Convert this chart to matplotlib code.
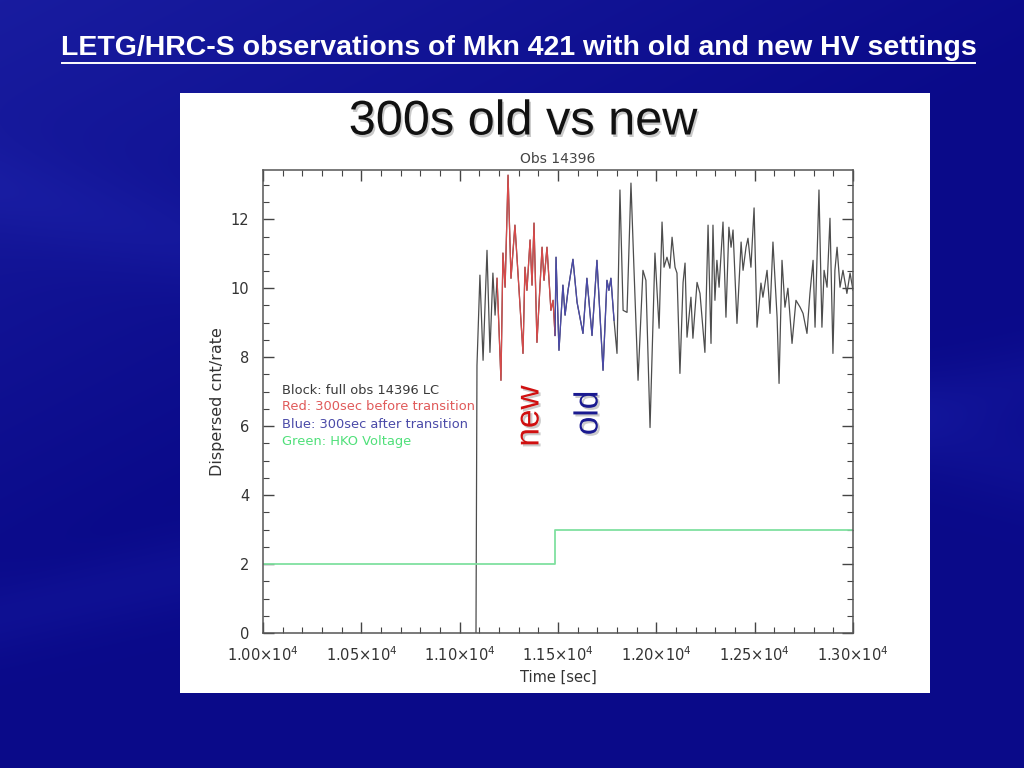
import numpy as np
import matplotlib
matplotlib.use("Agg")
import matplotlib.pyplot as plt
from matplotlib import patheffects as pe
from matplotlib.ticker import MultipleLocator, FixedLocator

# ---------------- data ----------------
time_sec = [
    11083, 11088, 11103, 11119, 11139, 11154, 11169, 11180, 11190,
    11210, 11220, 11231, 11246, 11261, 11281, 11302, 11322, 11332, 11342,
    11358, 11368, 11378, 11393, 11419, 11429, 11444, 11464, 11475, 11485,
    11490, 11505, 11525, 11536, 11551, 11576, 11597, 11627, 11647, 11673,
    11698, 11729, 11749, 11759, 11769, 11785,
    11800, 11815, 11831, 11851, 11871, 11886, 11907, 11932, 11947, 11968,
    11993, 12014, 12029, 12039, 12054, 12069, 12080, 12095, 12105, 12120,
    12136, 12146, 12156, 12176, 12186, 12207, 12222, 12247, 12263, 12278,
    12288, 12298, 12308, 12319, 12339, 12354, 12369, 12380, 12390, 12410,
    12431, 12441, 12456, 12466, 12481, 12497, 12512, 12532, 12542, 12563,
    12578, 12593, 12614, 12624, 12639, 12654, 12669, 12690, 12710, 12731,
    12746, 12766, 12781, 12797, 12807, 12817, 12827, 12842, 12853, 12868,
    12883, 12898, 12908, 12919, 12934, 12949, 12969, 12985, 13000,
]
rate = [
    0.00, 7.76, 10.38, 7.91, 11.10, 8.14, 10.44, 9.22, 10.29,
    7.33, 11.02, 10.03, 13.28, 10.29, 11.83, 9.94, 8.11, 10.61, 9.94,
    11.40, 10.09, 11.89, 8.43, 11.19, 10.23, 11.19, 9.36, 9.65, 8.63,
    10.90, 8.20, 10.09, 9.22, 9.94, 10.84, 9.59, 8.69, 10.29, 8.63,
    10.81, 7.62, 10.23, 9.94, 10.29, 9.07,
    8.11, 12.85, 9.36, 9.30, 13.05, 10.61, 7.33, 10.52, 10.23, 5.96,
    11.02, 8.84, 11.92, 10.61, 10.90, 10.58, 11.48, 10.61, 10.44, 7.53,
    10.17, 10.73, 8.58, 9.74, 8.55, 10.17, 9.85, 8.14, 11.83, 8.40,
    11.83, 9.65, 10.81, 10.03, 11.92, 9.16, 11.77, 11.19, 11.69, 8.98,
    11.34, 10.52, 11.19, 11.45, 10.61, 12.33, 8.87, 10.15, 9.74, 10.52,
    9.27, 11.34, 9.16, 7.24, 10.81, 9.45, 10.00, 8.40, 9.65, 9.45,
    9.27, 8.69, 9.85, 10.81, 8.87, 10.87, 12.85, 8.87, 10.52, 10.03,
    12.03, 8.11, 10.52, 11.19, 10.03, 10.52, 9.85, 10.44, 9.94,
]
transition_time = 11485
window_sec = 300
voltage_time = [10000, 11485, 11485, 13000]
voltage_level = [2, 2, 3, 3]

xticks = [10000, 10500, 11000, 11500, 12000, 12500, 13000]
xtick_labels = [r"$1.00{\times}10^{4}$", r"$1.05{\times}10^{4}$", r"$1.10{\times}10^{4}$",
                r"$1.15{\times}10^{4}$", r"$1.20{\times}10^{4}$", r"$1.25{\times}10^{4}$",
                r"$1.30{\times}10^{4}$"]
yticks = [0, 2, 4, 6, 8, 10, 12]
legend_lines = ["Block: full obs 14396 LC", "Red: 300sec before transition",
                "Blue: 300sec after transition", "Green: HKO Voltage"]
legend_colors = ["#3a3a3a", "#e05a5a", "#4a4aa8", "#50e07a"]

t = np.array(time_sec, dtype=float)
r = np.array(rate, dtype=float)
red_mask = (t >= transition_time - window_sec) & (t <= transition_time)
blue_mask = (t >= transition_time) & (t <= transition_time + window_sec)

# ---------------- figure ----------------
W, H = 1024, 768
fig = plt.figure(figsize=(W / 100, H / 100), dpi=100)

# background
bg = fig.add_axes([0, 0, 1, 1])
yy, xx = np.mgrid[0:H, 0:W]
u = xx / W
v = yy / H
base = np.zeros((H, W, 3))
light = 0.07 * np.clip(1 - (u * 0.9 + v * 1.3), 0, 1)
band = 0.03 * np.exp(-((v - 0.25 - 0.35 * u) / 0.06) ** 2) + 0.03 * np.exp(-((v - 0.8 + 0.3 * u) / 0.05) ** 2)
base[..., 0] = 0.04 + light * 0.8 + band * 0.6
base[..., 1] = 0.04 + light * 1.0 + band * 0.8
base[..., 2] = 0.54 + light * 1.2 + band * 1.2
bg.imshow(np.clip(base, 0, 1), extent=[0, 1, 0, 1], aspect="auto", origin="upper")
bg.set_xlim(0, 1)
bg.set_ylim(0, 1)
bg.axis("off")

# slide title
title_y = 1 - 48 / H
fig.text(518.5 / W, title_y, "LETG/HRC-S observations of Mkn 421 with old and new HV settings",
         color="white", fontsize=20.5, fontweight="bold", family="Liberation Sans",
         ha="center", va="center")
bg.plot([62 / W, 975 / W], [1 - 63 / H, 1 - 63 / H], color="white", lw=1.4)

# white panel
panel = fig.add_axes([180 / W, 1 - 693 / H, 750 / W, 600 / H])
panel.set_facecolor("white")
panel.set_xticks([])
panel.set_yticks([])
for s in panel.spines.values():
    s.set_visible(False)

fig.text(523 / W, 1 - 122 / H, "300s old vs new", fontsize=35, family="Liberation Sans",
         color="#111111", ha="center", va="center",
         path_effects=[pe.withSimplePatchShadow(offset=(1.2, -1.8), shadow_rgbFace="#888888", alpha=0.45)])

# main axes
ax = fig.add_axes([263 / W, 1 - 633 / H, 590 / W, 463 / H])
ax.set_facecolor("white")
ax.plot(t, r, color="#4d4d4d", lw=0.9)
ax.plot(t[red_mask], r[red_mask], color="#d84a4a", lw=0.9)
ax.plot(t[blue_mask], r[blue_mask], color="#4a4aa8", lw=0.9)
ax.plot(voltage_time, voltage_level, color="#80e0a0", lw=1.3)

ax.set_xlim(10000, 13000)
ax.set_ylim(0, 13.43)
ax.xaxis.set_major_locator(FixedLocator(xticks))
ax.set_xticklabels(xtick_labels)
ax.yaxis.set_major_locator(FixedLocator(yticks))
ax.xaxis.set_minor_locator(MultipleLocator(100))
ax.yaxis.set_minor_locator(MultipleLocator(0.5))
ax.tick_params(which="both", direction="in", top=True, right=True, colors="#444444",
               labelcolor="#333333", labelsize=10.5)
ax.tick_params(which="major", length=8, width=1)
ax.tick_params(which="minor", length=4, width=0.8)
ax.tick_params(axis="x", pad=9)
ax.tick_params(axis="y", pad=10)
for s in ax.spines.values():
    s.set_color("#555555")
    s.set_linewidth(1.1)
ax.set_xlabel("Time [sec]", fontsize=10.5, color="#333333", labelpad=4)
ax.set_ylabel("Dispersed cnt/rate", fontsize=11.5, color="#333333", labelpad=4)
ax.set_title("Obs 14396", fontsize=10, color="#444444", pad=5)

for i, (txt, c) in enumerate(zip(legend_lines, legend_colors)):
    fig.text(282 / W, 1 - (390 + 17 * i) / H, txt, color=c, fontsize=9.4, ha="left", va="center")

shadow = [pe.withSimplePatchShadow(offset=(1.5, -1.5), shadow_rgbFace="#999999", alpha=0.5)]
fig.text(530 / W, 1 - 416 / H, "new", rotation=90, fontsize=24, color="#d01010",
         family="Liberation Sans", ha="center", va="center", path_effects=shadow)
fig.text(589 / W, 1 - 413 / H, "old", rotation=90, fontsize=24, color="#1a1a90",
         family="Liberation Sans", ha="center", va="center", path_effects=shadow)

fig.savefig("out.png", dpi=100)
